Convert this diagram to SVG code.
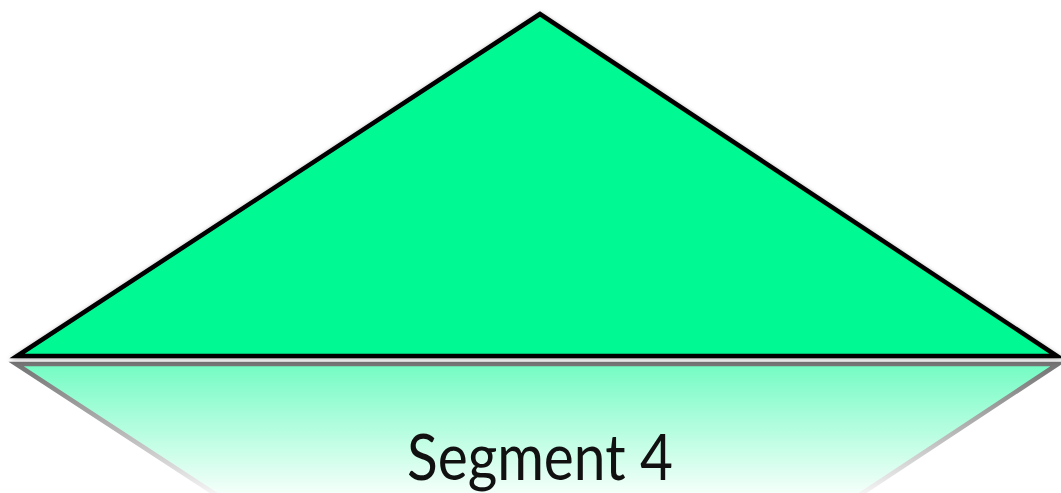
<svg xmlns="http://www.w3.org/2000/svg" width="1061" height="493" viewBox="0 0 1061 493">
  <defs>
    <filter id="shadow" x="-5%" y="-5%" width="110%" height="115%">
      <feDropShadow dx="0" dy="1" stdDeviation="2" flood-color="#000" flood-opacity="0.35"/>
    </filter>
    <linearGradient id="fade" x1="0" y1="363" x2="0" y2="505" gradientUnits="userSpaceOnUse">
      <stop offset="0" stop-color="#fff" stop-opacity="0.55"/>
      <stop offset="1" stop-color="#fff" stop-opacity="0"/>
    </linearGradient>
    <mask id="reflMask" maskUnits="userSpaceOnUse" x="0" y="355" width="1061" height="138">
      <rect x="0" y="355" width="1061" height="138" fill="url(#fade)"/>
    </mask>
    <style>
      .seg { fill: #00F992; stroke: #000; stroke-width: 4.5; stroke-linejoin: miter; }
      .label { font-family: Lato, "Liberation Sans", sans-serif; font-size: 64px; fill: #111; }
    </style>
  </defs>
  <rect width="1061" height="493" fill="#fff"/>
  <g id="reflection" mask="url(#reflMask)">
    <polygon class="seg" points="16,364 1058,364 540,706"/>
  </g>
  <g id="segment4">
    <polygon class="seg" filter="url(#shadow)" points="540,14 17,356 1057,356"/>
  </g>
  <g id="label">
    <text class="label" x="540" y="480" text-anchor="middle" textLength="266" lengthAdjust="spacingAndGlyphs">Segment 4</text>
  </g>
</svg>
